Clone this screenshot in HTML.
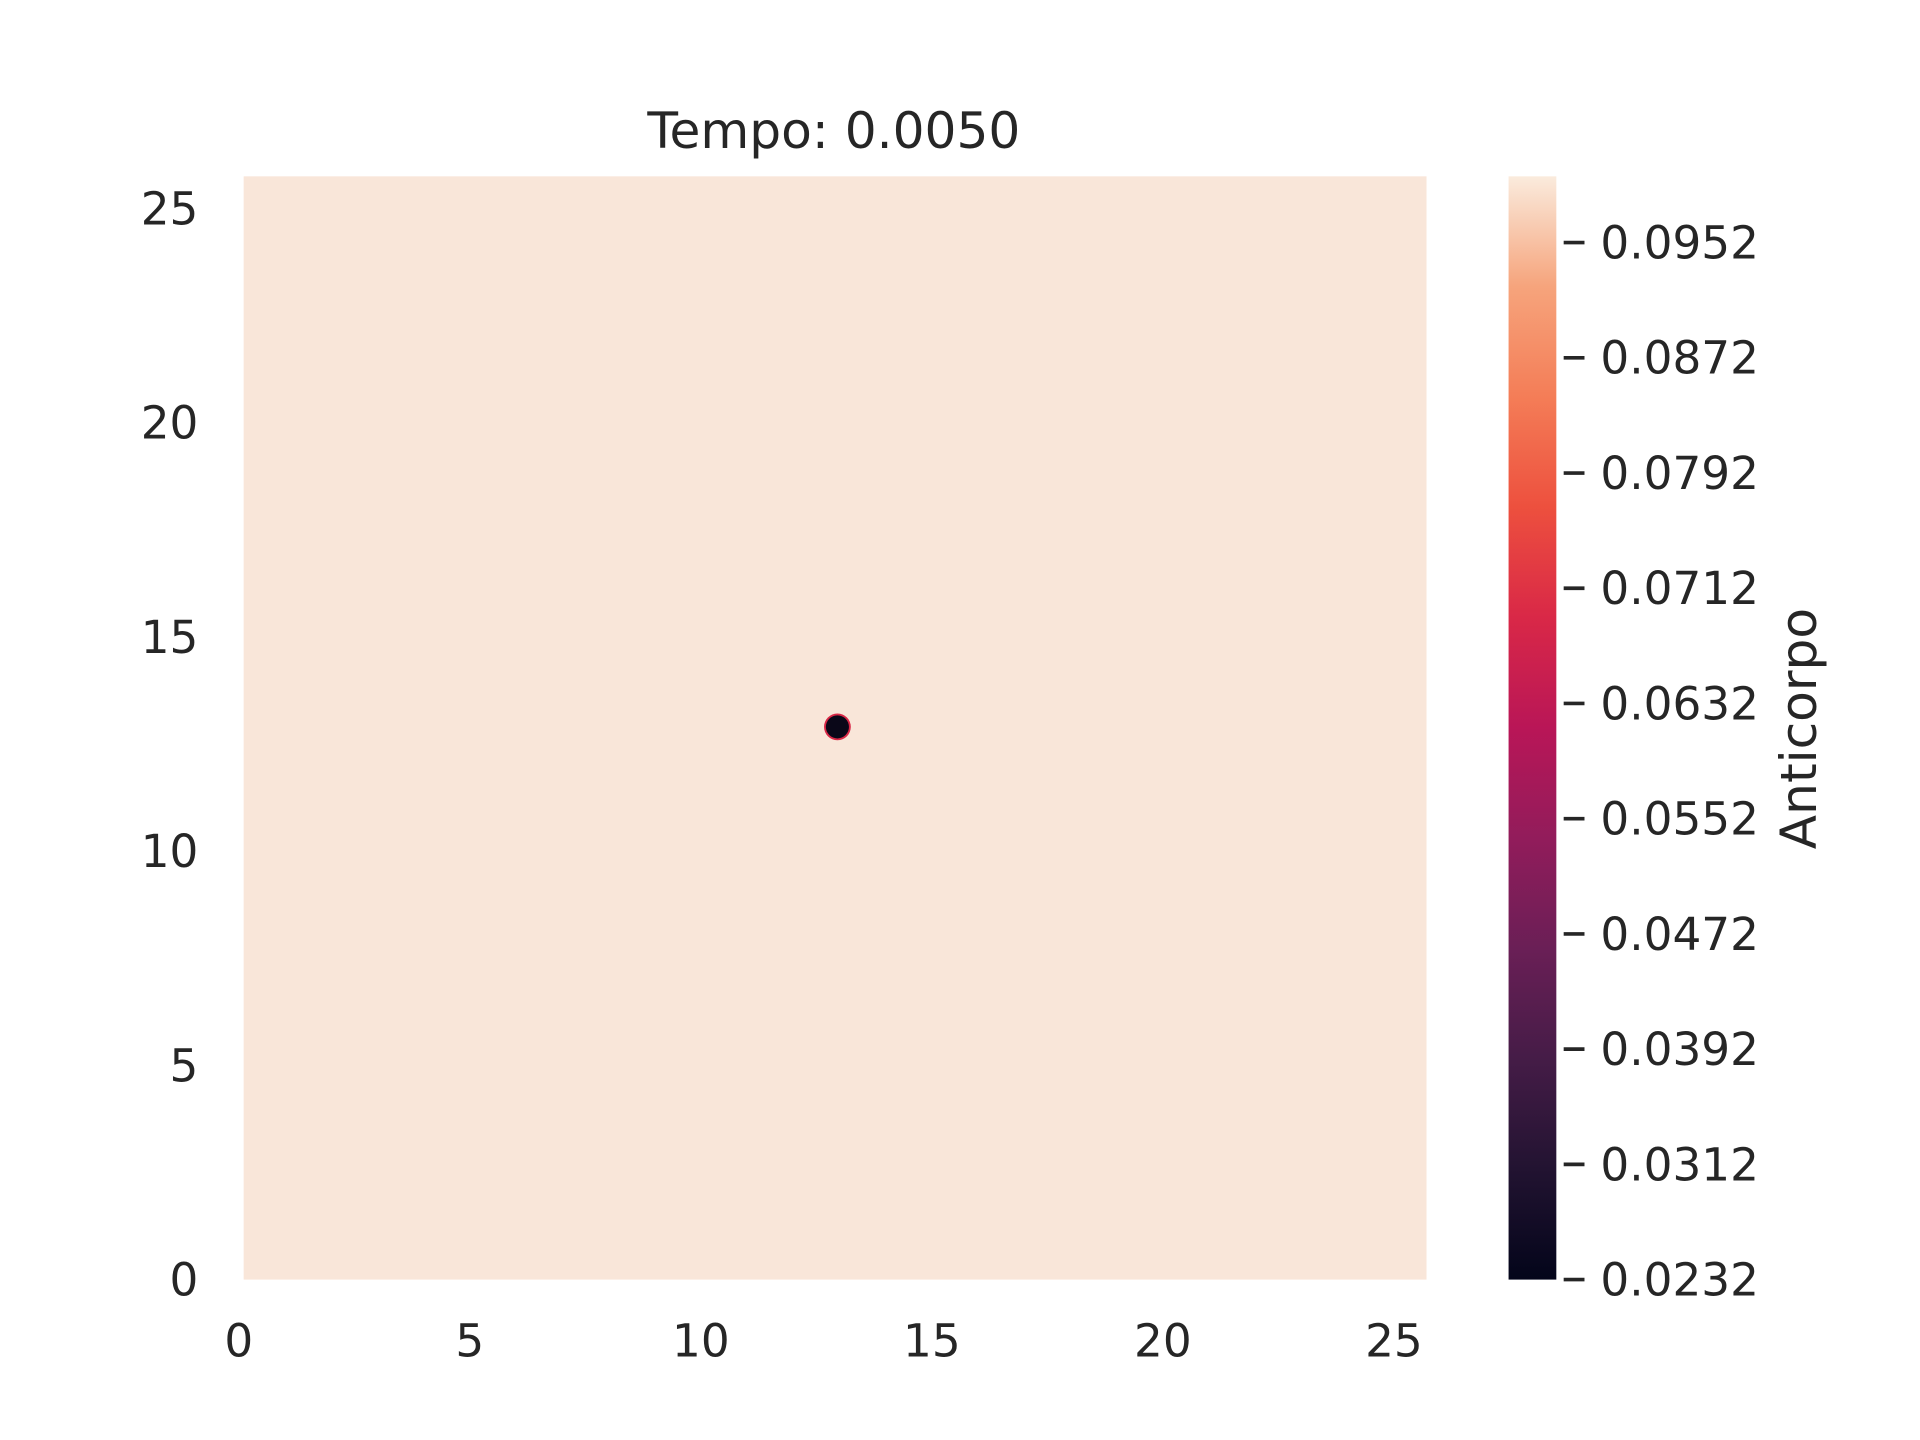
<!DOCTYPE html>
<html><head><meta charset="utf-8"><style>
html,body{margin:0;padding:0;background:#fff}
svg{display:block}
text{font-family:"DejaVu Sans","Liberation Sans",sans-serif;fill:#262626;font-size:37px}
</style></head><body>
<svg id="chart" width="1920" height="1440" viewBox="0 0 1568 1176" xmlns="http://www.w3.org/2000/svg">
<defs>
<linearGradient id="rocket" x1="0" y1="1" x2="0" y2="0">
<stop offset="0" stop-color="#03051A"/><stop offset="0.1" stop-color="#221331"/>
<stop offset="0.2" stop-color="#451C47"/><stop offset="0.3" stop-color="#6A1F56"/>
<stop offset="0.4" stop-color="#921C5B"/><stop offset="0.5" stop-color="#B91657"/>
<stop offset="0.6" stop-color="#D92847"/><stop offset="0.7" stop-color="#ED503E"/>
<stop offset="0.8" stop-color="#F47D57"/><stop offset="0.9" stop-color="#F6A47C"/>
<stop offset="1" stop-color="#FAEBDD"/>
</linearGradient>
</defs>
<text x="681" y="121" text-anchor="middle" style="font-size:41px">Tempo: 0.0050</text>
<g id="plot"></g>
<rect x="1232" y="144" width="39" height="901" fill="url(#rocket)"/>
<g id="cbticks"></g>
<text transform="translate(1483,595) rotate(-90)" text-anchor="middle" style="font-size:41px">Anticorpo</text>
</svg>
<script>
const xTicks=[0,5,10,15,20,25];
const yTicks=[0,5,10,15,20,25];
const cbTicks=[0.0232,0.0312,0.0392,0.0472,0.0552,0.0632,0.0712,0.0792,0.0872,0.0952];
const xDomain=[0,25.6];
const yDomain=[0,25.75];
const cbDomain=[0.0232,0.0998];
const spotX=[12.85];
const spotY=[12.9];
const spotR=[0.25];
const ns="http://www.w3.org/2000/svg";
const L=199,R=1165,T=144,B=1045;
const sx=v=>L+(v-xDomain[0])/(xDomain[1]-xDomain[0])*(R-L);
const sy=v=>B-(v-yDomain[0])/(yDomain[1]-yDomain[0])*(B-T);
const sc=v=>B-(v-cbDomain[0])/(cbDomain[1]-cbDomain[0])*(B-T);
function mk(tag,attrs,parent){const e=document.createElementNS(ns,tag);for(const k in attrs)e.setAttribute(k,attrs[k]);parent.appendChild(e);return e;}
const plot=document.getElementById('plot');
const bg=mk('rect',{x:sx(xDomain[0]),y:sy(yDomain[1]),width:sx(xDomain[1])-sx(xDomain[0]),height:sy(yDomain[0])-sy(yDomain[1]),fill:'#F9E6D9'},plot);


spotX.forEach((x,i)=>{
 const c=mk('circle',{cx:sx(x),cy:sy(spotY[i]),r:(sx(spotR[i])-sx(0))+1.5,fill:'#D92847'},plot);
 
 
 const d=mk('circle',{cx:sx(x),cy:sy(spotY[i]),r:sx(spotR[i])-sx(0),fill:'#0A0718'},plot);
 
 
});
xTicks.forEach(v=>{
 const t=mk('text',{x:sx(v)-4,y:1108,'text-anchor':'middle'},plot);t.textContent=v;
 
 
});
yTicks.forEach(v=>{
 const t=mk('text',{x:162,y:sy(v)+13,'text-anchor':'end'},plot);t.textContent=v;
 
 
});
const cb=document.getElementById('cbticks');
cbTicks.forEach(v=>{
 const y=sc(v);
 const l=mk('line',{x1:1277,x2:1294,y1:y,y2:y,stroke:'#262626','stroke-width':3},cb);
 
 
 const t=mk('text',{x:1307,y:y+13},cb);t.textContent=v.toFixed(4);
 
 
});
</script>
</body></html>
